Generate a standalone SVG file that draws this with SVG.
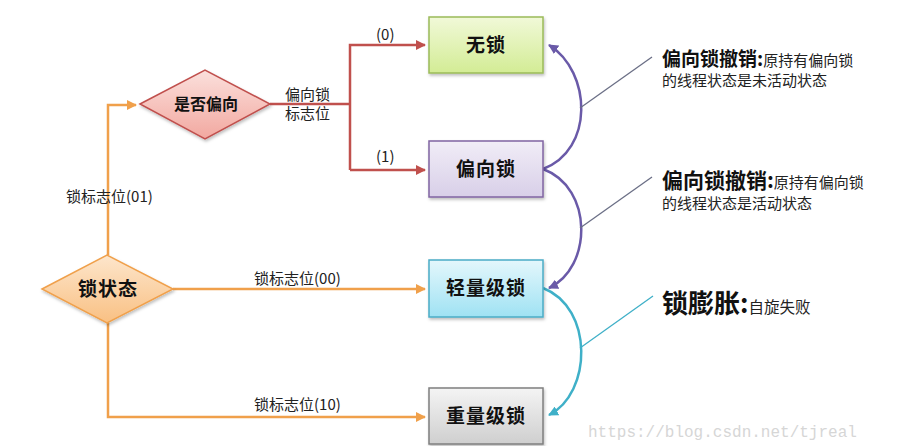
<svg xmlns="http://www.w3.org/2000/svg" width="903" height="446" viewBox="0 0 903 446">
<defs>
<style>
.lbl{font-family:"Noto Sans CJK SC","Liberation Sans",sans-serif;font-size:15px;fill:#222}
.node{font-family:"Noto Sans CJK SC","Liberation Sans",sans-serif;font-weight:bold;font-size:19px;fill:#111;text-anchor:middle;letter-spacing:1px}
.note{font-family:"Noto Sans CJK SC","Liberation Sans",sans-serif;font-size:15px;fill:#222}
.noteb{font-weight:bold;font-size:19px;fill:#111}
.or{fill:none;stroke:#f0a04b;stroke-width:2.5}
.rd{fill:none;stroke:#c0504d;stroke-width:2.5}
.pu{fill:none;stroke:#6a5aa8;stroke-width:2.5}
.cy{fill:none;stroke:#3fb0c8;stroke-width:2.5}
</style>
<marker id="aOr" viewBox="0 0 10 10" refX="9" refY="5" markerWidth="4" markerHeight="4" orient="auto" markerUnits="strokeWidth"><path d="M0,0 L10,5 L0,10 z" fill="#f0a04b"/></marker>
<marker id="aRd" viewBox="0 0 10 10" refX="9" refY="5" markerWidth="4" markerHeight="4" orient="auto" markerUnits="strokeWidth"><path d="M0,0 L10,5 L0,10 z" fill="#c0504d"/></marker>
<marker id="aPu" viewBox="0 0 10 10" refX="9" refY="5" markerWidth="4" markerHeight="4" orient="auto" markerUnits="strokeWidth"><path d="M0,0 L10,5 L0,10 z" fill="#6a5aa8"/></marker>
<marker id="aCy" viewBox="0 0 10 10" refX="9" refY="5" markerWidth="4" markerHeight="4" orient="auto" markerUnits="strokeWidth"><path d="M0,0 L10,5 L0,10 z" fill="#3fb0c8"/></marker>
<linearGradient id="gGreen" x1="0" y1="0" x2="0" y2="1"><stop offset="0" stop-color="#f1f9d8"/><stop offset="1" stop-color="#d3ec95"/></linearGradient>
<linearGradient id="gPurple" x1="0" y1="0" x2="0" y2="1"><stop offset="0" stop-color="#f1edf7"/><stop offset="1" stop-color="#d8cfe8"/></linearGradient>
<linearGradient id="gBlue" x1="0" y1="0" x2="0" y2="1"><stop offset="0" stop-color="#e4f7fc"/><stop offset="1" stop-color="#9fe2f3"/></linearGradient>
<linearGradient id="gGray" x1="0" y1="0" x2="0" y2="1"><stop offset="0" stop-color="#f4f4f4"/><stop offset="1" stop-color="#cfcfcf"/></linearGradient>
<linearGradient id="gPink" x1="0" y1="0" x2="0" y2="1"><stop offset="0" stop-color="#fbe0dc"/><stop offset="1" stop-color="#f2a8a0"/></linearGradient>
<linearGradient id="gOrange" x1="0" y1="0" x2="0" y2="1"><stop offset="0" stop-color="#fde6cc"/><stop offset="1" stop-color="#f9c083"/></linearGradient>
<filter id="sh" x="-20%" y="-20%" width="140%" height="150%"><feDropShadow dx="1" dy="2" stdDeviation="1.5" flood-color="#000" flood-opacity="0.25"/></filter>
</defs>
<rect width="903" height="446" fill="#ffffff"/>

<g id="connectors">
<path class="or" d="M108,255 V105 H136" marker-end="url(#aOr)"/>
<path class="or" d="M173,289 H425" marker-end="url(#aOr)"/>
<path class="or" d="M108,323 V417 H425" marker-end="url(#aOr)"/>
<path class="rd" d="M270,104 H350"/>
<path class="rd" d="M350,170 V45 H425" marker-end="url(#aRd)"/>
<path class="rd" d="M350,170 H425" marker-end="url(#aRd)"/>
<path class="pu" d="M543,169 C594,150 592,72 549,45" marker-end="url(#aPu)"/>
<path class="pu" d="M543,169 C594,188 592,268 549,288" marker-end="url(#aPu)"/>
<path class="cy" d="M543,288 C594,308 592,393 549,415" marker-end="url(#aCy)"/>
<line x1="580" y1="108" x2="652" y2="57" stroke="#6b6f86" stroke-width="1.3"/>
<line x1="580" y1="228" x2="652" y2="177" stroke="#6b6f86" stroke-width="1.3"/>
<line x1="580" y1="348" x2="653" y2="296" stroke="#3fb0c8" stroke-width="1.3"/>
<text class="lbl" x="66" y="202">锁标志位(01)</text>
<text class="lbl" x="254" y="284">锁标志位(00)</text>
<text class="lbl" x="254" y="410">锁标志位(10)</text>
<text class="lbl" x="285" y="100">偏向锁</text>
<text class="lbl" x="285" y="119">标志位</text>
<text class="lbl" x="376" y="40">(0)</text>
<text class="lbl" x="376" y="162">(1)</text>
</g>

<g id="node-state">
<polygon points="42,289 107,255 173,289 107,323" fill="url(#gOrange)" stroke="#f0a04b" stroke-width="1.5" filter="url(#sh)"/>
<text class="node" x="108" y="296">锁状态</text>
</g>
<g id="node-biased-check">
<polygon points="140,104 205,70 270,104 205,139" fill="url(#gPink)" stroke="#c0504d" stroke-width="1.5" filter="url(#sh)"/>
<text class="node" x="206" y="110" style="font-size:16px;letter-spacing:0">是否偏向</text>
</g>
<g id="node-nolock">
<rect x="429" y="17" width="114" height="56" fill="url(#gGreen)" stroke="#9bbb59" stroke-width="1.5" filter="url(#sh)"/>
<text class="node" x="486" y="52">无锁</text>
</g>
<g id="node-biased">
<rect x="429" y="141" width="114" height="56" fill="url(#gPurple)" stroke="#8064a2" stroke-width="1.5" filter="url(#sh)"/>
<text class="node" x="486" y="176">偏向锁</text>
</g>
<g id="node-light">
<rect x="429" y="260" width="114" height="57" fill="url(#gBlue)" stroke="#4bacc6" stroke-width="1.5" filter="url(#sh)"/>
<text class="node" x="486" y="295">轻量级锁</text>
</g>
<g id="node-heavy">
<rect x="429" y="388" width="114" height="56" fill="url(#gGray)" stroke="#7f7f7f" stroke-width="1.5" filter="url(#sh)"/>
<text class="node" x="486" y="423">重量级锁</text>
</g>

<g id="note-1">
<text class="note" x="662" y="66"><tspan class="noteb">偏向锁撤销:</tspan>原持有偏向锁</text>
<text class="note" x="662" y="86">的线程状态是未活动状态</text>
</g>
<g id="note-2">
<text class="note" x="662" y="188"><tspan class="noteb" style="font-size:21px">偏向锁撤销:</tspan>原持有偏向锁</text>
<text class="note" x="662" y="209">的线程状态是活动状态</text>
</g>
<g id="note-3">
<text class="note" x="662" y="313"><tspan class="noteb" style="font-size:26px">锁膨胀:</tspan><tspan style="font-size:15.5px">自旋失败</tspan></text>
</g>
<text x="588" y="437" font-family="Liberation Mono, monospace" font-size="16" fill="#d6d6d6">https://blog.csdn.net/tjreal</text>
</svg>
